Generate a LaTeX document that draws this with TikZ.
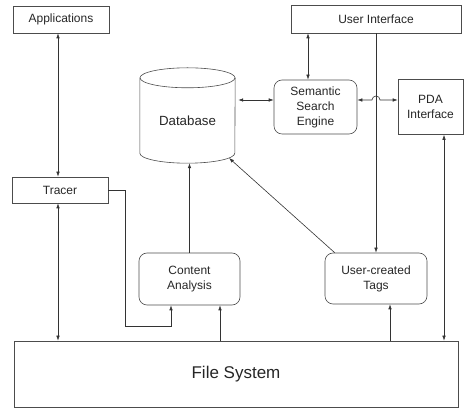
\documentclass[tikz,border=0pt]{standalone}
\usepackage{fontspec}
\setmainfont{Liberation Sans}
\usetikzlibrary{calc,arrows.meta}
\tikzset{%
box/.style={draw=black!70,line width=0.6pt,align=center,inner sep=0pt,font=\fontsize{12}{15}\selectfont,text=black!85},
rbox/.style={box,rounded corners=8pt},
both/.style={draw=black!80,line width=0.6pt,{Latex[length=5pt,width=3.5pt]}-{Latex[length=5pt,width=3.5pt]}},
feed/.style={draw=black!80,line width=0.6pt,-{Latex[length=5pt,width=3.5pt]}},
rim/.style={draw=black!70,line width=0.6pt}
}

\begin{document}
\begin{tikzpicture}[x=1pt,y=1pt]
\useasboundingbox (0,0) rectangle (465,409);
%%
\node[box,minimum width=96pt,minimum height=27pt] (app)    at (61,389.5) {Applications};
\node[box,minimum width=96pt,minimum height=26pt] (tracer) at (60,219)    {Tracer};
%%
\node[minimum width=95pt,minimum height=85pt,inner sep=0pt,
      font=\fontsize{13.3}{16}\selectfont,text=black!85] (db) at (187.5,288.5) {Database};
\draw[rim] (db.north west) -- ([yshift=10pt]db.south west)
           arc[start angle=180,end angle=360,x radius=47.5pt,y radius=10pt] -- (db.north east);
\draw[rim] (db.north) ellipse[x radius=47.5pt,y radius=10pt];
%%
\node[box,minimum width=170pt,minimum height=28pt] (ui)  at (376,390)     {User Interface};
\node[rbox,minimum width=83pt,minimum height=54pt] (sse) at (315.5,302)   {Semantic\\Search\\Engine};
\node[box,minimum width=65pt,minimum height=55pt]  (pda) at (430.5,302)   {PDA\\Interface};
%%
\node[rbox,minimum width=101pt,minimum height=52pt] (ca)   at (189.5,130) {Content\\Analysis};
\node[rbox,minimum width=102pt,minimum height=51pt] (tags) at (376,130.5) {User-created\\Tags};
\node[box,minimum width=444pt,minimum height=66pt,
      font=\fontsize{17}{20}\selectfont]            (fs)   at (236,35)    {File System};
%%%%%%%%%%%%%%
%%
\draw[both] ([xshift=-3pt]app.south) -- ([xshift=-2pt]tracer.north);
\draw[both] ([xshift=-2pt]tracer.south) -- ([xshift=-2pt]tracer.south |- fs.north);
\draw[feed] (tracer.east) -- ++(17,0) |- ([xshift=-18.5pt,yshift=-21pt]ca.south) -- ([xshift=-18.5pt]ca.south);
%%
\draw[feed] (ca.north) -- (ca.north |- db.south);
\draw[feed] ([xshift=30.5pt]ca.south |- fs.north) -- ([xshift=30.5pt]ca.south);
\draw[feed] ([xshift=14pt]tags.south |- fs.north) -- ([xshift=14pt]tags.south);
\draw[feed] ([xshift=10pt]tags.north west) -- ($(db.south)+(0,10)+(-29:47.5 and 10)$);
%%
\draw[feed] (ui.south) -- (tags.north);
\draw[both] ([xshift=-7.5pt]sse.north) -- ([xshift=-7.5pt]sse.north |- ui.south);
\draw[both,shorten >=3pt] ([yshift=7pt]sse.west) -- ([yshift=7pt]sse.west -| db.east);
\draw[both] ([yshift=7pt]sse.east) -- ([xshift=-4pt,yshift=7pt]sse.east -| ui.south)
            arc[start angle=180,end angle=0,radius=4pt] -- ([yshift=7pt]pda.west);
\draw[both] ([xshift=13.5pt]pda.south) -- ([xshift=13.5pt]pda.south |- fs.north);
\end{tikzpicture}
\end{document}
